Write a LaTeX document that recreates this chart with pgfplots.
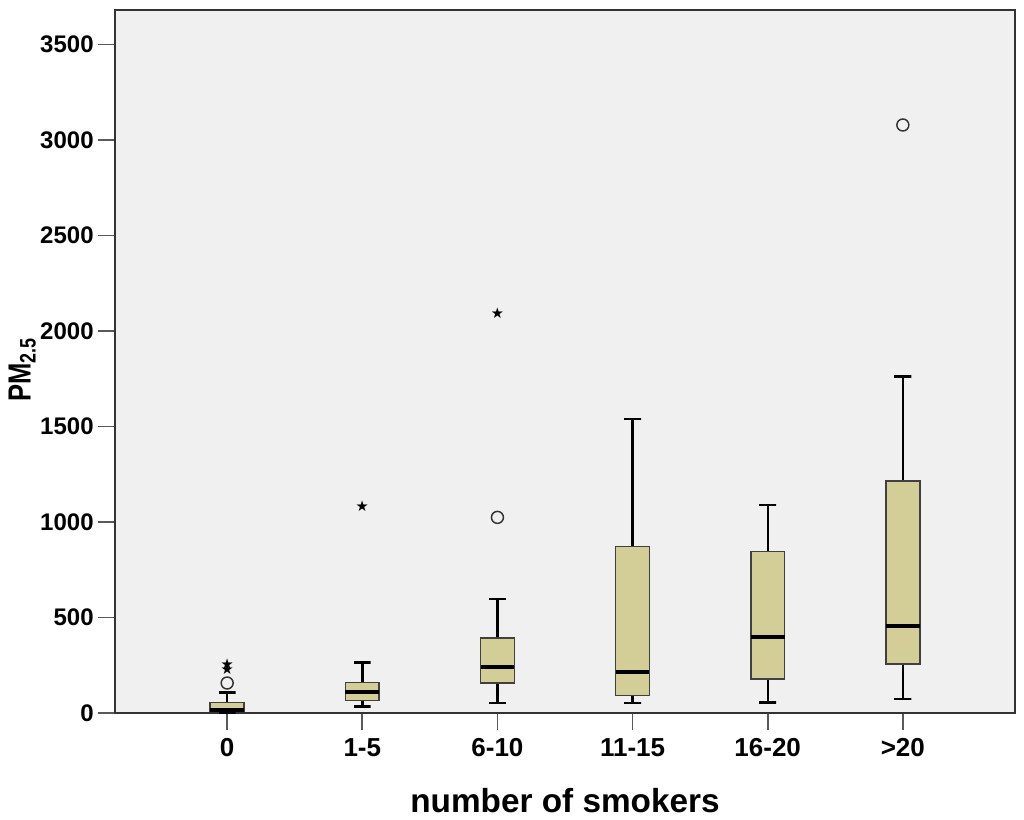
\documentclass[border=0pt]{standalone}
\usepackage{fontspec}
\setmainfont{Liberation Sans}
\newfontfamily\dejavu{DejaVu Sans}
\usepackage{pgfplots}
\pgfplotsset{compat=1.18}
\definecolor{boxfill}{RGB}{211,206,152}
\definecolor{bgcol}{RGB}{240,240,240}
\pgfplotsset{
  whisk/.style={black, line width=1.8pt, no markers, forget plot},
  boxst/.style={draw=black!75, fill=boxfill, line width=1.2pt, no markers, forget plot},
  medst/.style={black, line width=3pt, no markers, forget plot},
}
% \smbox{position}{lower whisker}{lower quartile}{median}{upper quartile}{upper whisker}
\newcommand\smbox[6]{%
  \pgfmathsetmacro\xl{#1-0.125}\pgfmathsetmacro\xr{#1+0.125}%
  \pgfmathsetmacro\cl{#1-0.0625}\pgfmathsetmacro\cr{#1+0.0625}%
  \edef\tmp{%
  \noexpand\addplot[whisk] coordinates {(\cl,#6) (\cr,#6) (#1,#6) (#1,#5)};
  \noexpand\addplot[whisk] coordinates {(\cl,#2) (\cr,#2) (#1,#2) (#1,#3)};
  \noexpand\addplot[boxst] coordinates {(\xl,#3) (\xr,#3) (\xr,#5) (\xl,#5) (\xl,#3)} -- cycle;
  \noexpand\addplot[medst] coordinates {(\xl,#4) (\xr,#4)};
  }\tmp}
\begin{document}
\begin{tikzpicture}
\begin{axis}[
  scale only axis, width=675pt, height=527.25pt,
  xmin=-0.83, xmax=5.83, ymin=0, ymax=3680,
  axis background/.style={fill=bgcol},
  xtick={0,...,5}, xticklabels={0,1-5,6-10,11-15,16-20,>20},
  ytick={0,500,...,3500},
  xtick pos=lower, ytick pos=left,
  tick align=outside, major tick length=12.5pt,
  tick style={black!65, line width=1.3pt},
  axis line style={black!80, line width=1.5pt},
  /pgf/number format/1000 sep={}, scaled ticks=false,
  /pgf/number format/assume math mode=true,
  yticklabel style={font=\fontsize{18}{20}\selectfont\bfseries},
  xticklabel style={font=\fontsize{19.5}{22}\selectfont\bfseries, yshift=-3pt},
  xlabel={number of smokers}, ylabel={\scalebox{0.8}[1]{PM\textsubscript{2.5}}},
  xlabel style={font=\fontsize{25}{28}\selectfont\bfseries, at={(axis description cs:0.5,-0.124)}, anchor=center},
  ylabel style={font=\fontsize{24}{28}\selectfont\bfseries, at={(axis description cs:-0.103,0.488)}, anchor=center},
]
\smbox{0}{0}{7}{17}{55}{108}
\smbox{1}{35}{66}{110}{160}{265}
\smbox{2}{52}{157}{239}{392}{597}
\smbox{3}{52}{92}{215}{872}{1538}
\smbox{4}{55}{178}{396}{846}{1088}
\smbox{5}{73}{256}{453}{1216}{1761}
% outliers (circles)
\addplot[only marks, mark=o, mark size=4.5pt, mark options={draw=black!80, line width=1.1pt}]
  coordinates {(0,157) (2,1024) (5,3078)};
% extreme values (stars)
\addplot[only marks, black, mark=text, text mark={\fontsize{11}{11}\dejavu ★}]
  coordinates {(0,253) (0,227) (1,1080) (2,2093)};
\end{axis}
\pgfresetboundingbox
\path ([shift={(-86.25pt,-79.5pt)}]current axis.south west) rectangle ([shift={(6.75pt,7.5pt)}]current axis.north east);
\end{tikzpicture}
\end{document}
